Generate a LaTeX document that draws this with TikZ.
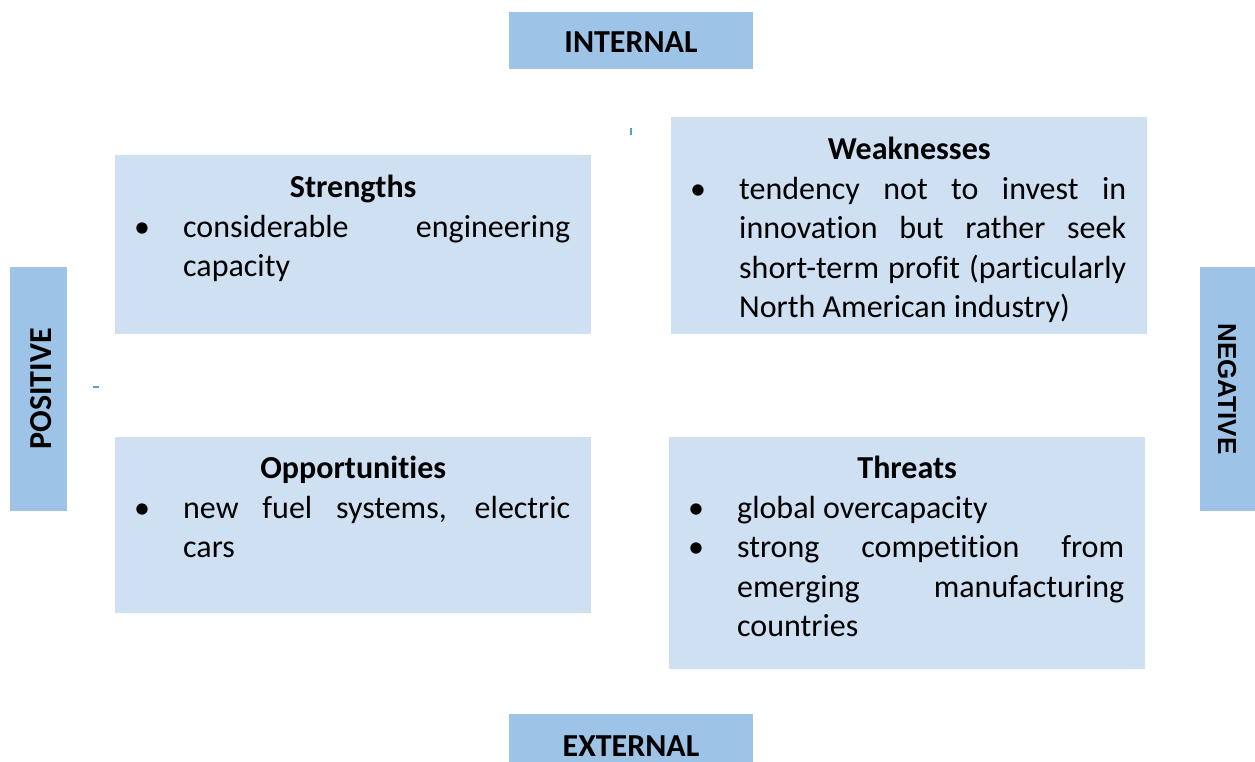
\documentclass[tikz,border=0pt]{standalone}
\usepackage{fontspec}
\setmainfont{Carlito}[Ligatures={NoCommon}]
\newfontfamily\negfont{Liberation Sans}
\definecolor{labelblue}{RGB}{157,195,230}
\definecolor{boxblue}{RGB}{207,224,242}
\definecolor{markblue}{RGB}{91,155,213}
\newcommand{\bodyfont}{\fontsize{32}{39.5}\selectfont}
\newcommand{\jl}[1]{\makebox[387pt][s]{#1}}
\newcommand{\bul}{\strut\hspace*{19pt}\makebox[49pt][l]{\textbullet}}
\newcommand{\ind}{\strut\hspace*{68pt}}
\newcommand{\hd}[1]{\makebox[476pt][c]{\strut\bfseries #1}}
\tikzset{
  labelbox/.style={fill=labelblue, draw=none, inner sep=0pt, anchor=north west},
  quadbox/.style={fill=boxblue, draw=none, inner sep=0pt, anchor=north west},
  quadtext/.style={anchor=north west, inner sep=0pt, align=left, font=\bodyfont},
  lab/.style={inner sep=0pt, anchor=base, font=\fontsize{32}{39.5}\selectfont\bfseries},
  neglab/.style={inner sep=0pt, anchor=base, font=\fontsize{26}{30}\selectfont\negfont\bfseries},
  straymark/.style={draw=markblue, line width=1.6pt}
}
\begin{document}
\begin{tikzpicture}[x=1pt, y=-1pt]
\useasboundingbox (0,0) rectangle (1255,762);
% label boxes
\node[labelbox, minimum width=244pt, minimum height=57pt] (intbox) at (509,12) {};
\node[labelbox, minimum width=244pt, minimum height=48pt] (extbox) at (509,714) {};
\node[labelbox, minimum width=57pt, minimum height=244pt] (posbox) at (10,267) {};
\node[labelbox, minimum width=55pt, minimum height=244pt] (negbox) at (1200,267) {};
\node[lab] (inttext) at (631,53) {INTERNAL};
\node[lab] (exttext) at (631,756) {EXTERNAL};
\node[lab, rotate=90] (postext) at (51,389) {POSITIVE};
\node[neglab, rotate=-90] (negtext) at (1218,389) {NEGATIVE};
% quadrant boxes
\node[quadbox, minimum width=476pt, minimum height=179pt] (str) at (115,155) {};
\node[quadbox, minimum width=476pt, minimum height=217pt] (wea) at (671,117) {};
\node[quadbox, minimum width=476pt, minimum height=176pt] (opp) at (115,437) {};
\node[quadbox, minimum width=476pt, minimum height=232pt] (thr) at (669,437) {};
% quadrant texts
\node[quadtext] (strtext) at ([yshift=-14.85pt]str.north west) {%
\hd{Strengths}\\
\bul\jl{considerable engineering}\\
\ind capacity};
\node[quadtext] (weatext) at ([yshift=-14.85pt]wea.north west) {%
\hd{Weaknesses}\\
\bul\jl{tendency not to invest in}\\
\ind\jl{innovation but rather seek}\\
\ind\jl{short-term profit (particularly}\\
\ind North American industry)};
\node[quadtext] (opptext) at ([yshift=-13.85pt]opp.north west) {%
\hd{Opportunities}\\
\bul\jl{new fuel systems, electric}\\
\ind cars};
\node[quadtext] (thrtext) at ([yshift=-13.85pt]thr.north west) {%
\hd{Threats}\\
\bul global overcapacity\\
\bul\jl{strong competition from}\\
\ind\jl{emerging manufacturing}\\
\ind countries};
% small stray marks
\draw[straymark] (631,128) -- (631,135);
\draw[straymark] (93,387) -- (99,387);
\end{tikzpicture}
\end{document}
